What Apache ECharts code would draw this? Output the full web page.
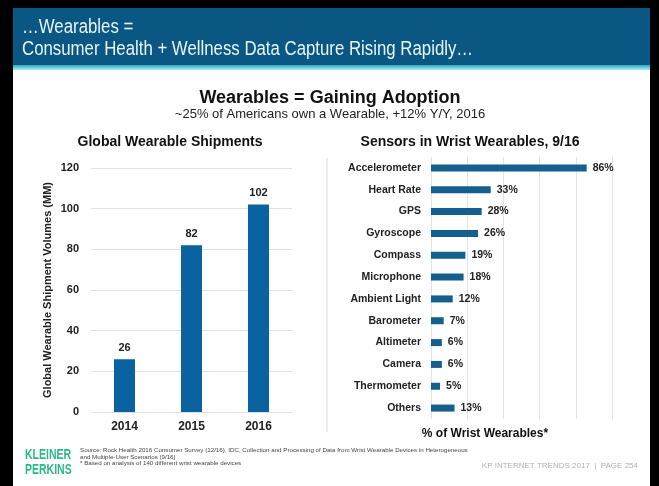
<!DOCTYPE html>
<html><head><meta charset="utf-8">
<script src="https://cdn.jsdelivr.net/npm/echarts@6/dist/echarts.min.js"></script>
<style>html,body{margin:0;padding:0;background:#000;}#c{width:659px;height:486px;}</style>
</head><body><div id="c"></div>
<script>
const years = ['2014', '2015', '2016'];
const shipments = [26, 82, 102];
const sensors = ['Accelerometer','Heart Rate','GPS','Gyroscope','Compass','Microphone','Ambient Light','Barometer','Altimeter','Camera','Thermometer','Others'];
const sensorPct = [86, 33, 28, 26, 19, 18, 12, 7, 6, 6, 5, 13];
const shipTicks = [0, 20, 40, 60, 80, 100, 120];

const F = '"Liberation Sans", Arial, Helvetica, sans-serif';
const chart = echarts.init(document.getElementById('c'));
chart.setOption({
  backgroundColor: '#000',
  animation: false,
  textStyle: { fontFamily: F },
  graphic: [
    { type: 'rect', shape: { x: 13, y: 8, width: 637, height: 478 }, style: { fill: '#ffffff' }, z: -10 },
    { type: 'rect', shape: { x: 13, y: 8, width: 637, height: 58 }, style: { fill: '#0b5783' }, z: -9 },
    { type: 'rect', shape: { x: 13, y: 65, width: 637, height: 5 }, style: { fill: new echarts.graphic.LinearGradient(0,0,0,1,[{offset:0,color:'#2aa9c0'},{offset:1,color:'#a8f0f4'}]) }, z: -9 },
    { type: 'text', x: 22, y: 27, scaleX: 0.84, style: { text: '…Wearables =', fill: '#e6f6fb', font: '20px ' + F, verticalAlign: 'middle' } },
    { type: 'text', x: 22, y: 49, scaleX: 0.84, style: { text: 'Consumer Health + Wellness Data Capture Rising Rapidly…', fill: '#e6f6fb', font: '20px ' + F, verticalAlign: 'middle' } },
    { type: 'text', x: 330, y: 98, style: { text: 'Wearables = Gaining Adoption', fill: '#111', font: 'bold 18px ' + F, align: 'center', verticalAlign: 'middle' } },
    { type: 'text', x: 330, y: 114, style: { text: '~25% of Americans own a Wearable, +12% Y/Y, 2016', fill: '#222', font: '13px ' + F, align: 'center', verticalAlign: 'middle' } },
    { type: 'text', x: 170, y: 142, style: { text: 'Global Wearable Shipments', fill: '#111', font: 'bold 14px ' + F, align: 'center', verticalAlign: 'middle' } },
    { type: 'text', x: 470, y: 142, style: { text: 'Sensors in Wrist Wearables, 9/16', fill: '#111', font: 'bold 14px ' + F, align: 'center', verticalAlign: 'middle' } },
    { type: 'line', shape: { x1: 327, y1: 158, x2: 327, y2: 432 }, style: { stroke: '#dcdcdc', lineWidth: 1 } },
    { type: 'text', x: 485, y: 434, style: { text: '% of Wrist Wearables*', fill: '#111', font: 'bold 12px ' + F, align: 'center', verticalAlign: 'middle' } },
    { type: 'text', x: 25, y: 455, scaleX: 0.7, style: { text: 'KLEINER', fill: '#2db88c', font: 'bold 15px ' + F, verticalAlign: 'middle' } },
    { type: 'text', x: 25, y: 470, scaleX: 0.7, style: { text: 'PERKINS', fill: '#2db88c', font: 'bold 15px ' + F, verticalAlign: 'middle' } },
    { type: 'text', x: 80, y: 450, style: { text: 'Source: Rock Health 2016 Consumer Survey (12/16), IDC, Collection and Processing of Data from Wrist Wearable Devices in Heterogeneous', fill: '#444', font: '6.2px ' + F, verticalAlign: 'middle' } },
    { type: 'text', x: 80, y: 457, style: { text: 'and Multiple-User Scenarios (9/16)', fill: '#444', font: '6.2px ' + F, verticalAlign: 'middle' } },
    { type: 'text', x: 80, y: 463, style: { text: '* Based on analysis of 140 different wrist wearable devices', fill: '#444', font: '6.2px ' + F, verticalAlign: 'middle' } },
    { type: 'text', x: 638, y: 466, style: { text: 'KP INTERNET TRENDS 2017  |  PAGE 254', fill: '#b0b0b0', font: '8px ' + F, align: 'right', verticalAlign: 'middle' } }
  ],
  grid: [
    { left: 91, right: 367, top: 168, bottom: 74 },
    { left: 431, right: 47, top: 157, bottom: 67 }
  ],
  xAxis: [
    { type: 'category', gridIndex: 0, data: years,
      axisLine: { show: false }, axisTick: { show: false },
      axisLabel: { color: '#222', fontWeight: 'bold', fontSize: 12, margin: 9 } },
    { type: 'value', gridIndex: 1, min: 0, max: 100, interval: 20,
      axisLine: { show: false }, axisTick: { show: false }, axisLabel: { show: false },
      splitLine: { lineStyle: { color: '#e3e3e3' } } }
  ],
  yAxis: [
    { type: 'value', gridIndex: 0, min: 0, max: 120, interval: 20,
      name: 'Global Wearable Shipment Volumes (MM)', nameLocation: 'middle', nameGap: 38,
      nameTextStyle: { color: '#222', fontWeight: 'bold', fontSize: 11 },
      axisLine: { show: false }, axisTick: { show: false },
      axisLabel: { color: '#222', fontWeight: 'bold', fontSize: 11, margin: 12,
        formatter: v => shipTicks.includes(v) ? String(v) : '' },
      splitLine: { lineStyle: { color: '#e0e0e0' } } },
    { type: 'category', gridIndex: 1, data: sensors, inverse: true,
      axisLine: { show: false }, axisTick: { show: false },
      axisLabel: { color: '#222', fontWeight: 'bold', fontSize: 10.5, margin: 10 } }
  ],
  series: [
    { type: 'bar', xAxisIndex: 0, yAxisIndex: 0, data: shipments, barWidth: 21,
      itemStyle: { color: '#0b62a0' },
      label: { show: true, position: 'top', color: '#222', fontWeight: 'bold', fontSize: 11, distance: 6 } },
    { type: 'bar', xAxisIndex: 1, yAxisIndex: 1, data: sensorPct, barWidth: 7,
      itemStyle: { color: '#155f8e' },
      label: { show: true, position: 'right', color: '#222', fontWeight: 'bold', fontSize: 10.5, distance: 6, formatter: '{c}%' } }
  ]
});
</script></body></html>
